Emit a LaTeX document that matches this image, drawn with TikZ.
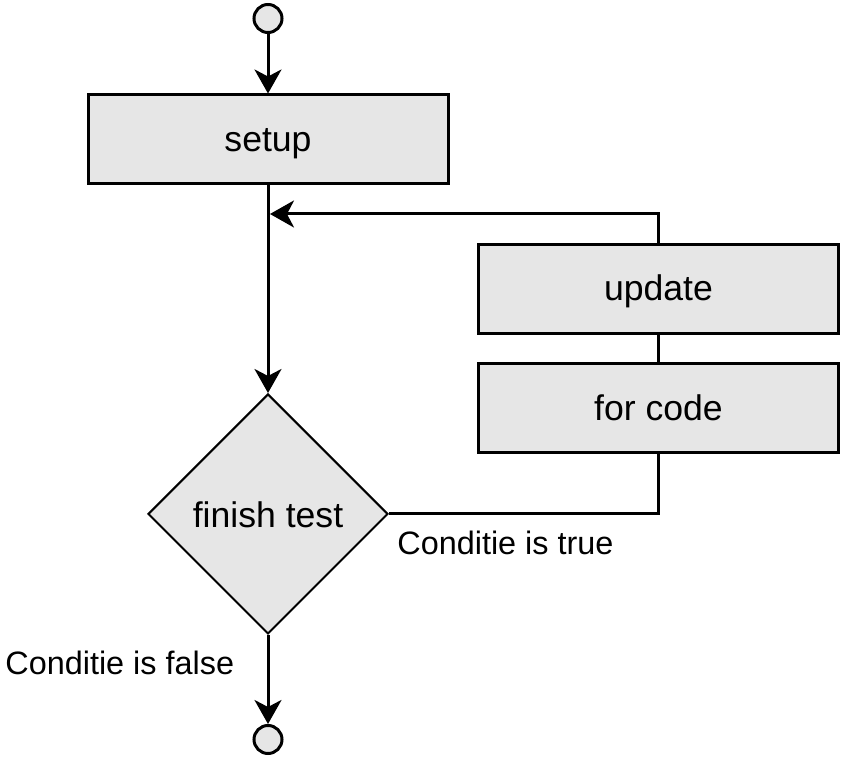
\documentclass[tikz,border=0pt]{standalone}
\usepackage{fontspec}
\setmainfont{Liberation Sans}
\usepackage{xcolor}
\usetikzlibrary{shapes.geometric, arrows.meta}

\definecolor{boxgray}{HTML}{E6E6E6}

\tikzset{
	every node/.style={font=\fontsize{16.2pt}{20pt}\selectfont},
	stepbox/.style={draw, line width=1.5pt, fill=boxgray, minimum width=180pt, minimum height=44.5pt, inner sep=0pt,
		font=\fontsize{17.8pt}{21pt}\selectfont, text height=15.5pt, text depth=3.5pt},
	testbox/.style={draw, diamond, line width=1pt, fill=boxgray, minimum width=120pt, minimum height=120pt, inner sep=0pt,
		font=\fontsize{17.8pt}{21pt}\selectfont, text height=16.5pt, text depth=3pt},
	terminal/.style={draw, circle, line width=1.5pt, fill=boxgray, minimum size=14pt, inner sep=0pt},
	flow/.style={line width=1.5pt, -{Stealth[length=12pt, width=13.5pt, inset=3.5pt]}},
	loopline/.style={line width=1.5pt},
	lbl/.style={inner sep=0pt}
}

\begin{document}
\begin{tikzpicture}[x=0.5pt, y=-0.5pt]
			% Frame of the picture
			\useasboundingbox (0,0) rectangle (843,759);
			
			% Start and end points
			\node[terminal] (start) at (268,18.5) {};
			\node[terminal] (stop) at (268,739.5) {};
			
			% Steps
			\node[stepbox] (setup) at (268,139.5) {setup};
			\node[stepbox] (update) at (658.5,289) {update};
			\node[stepbox] (forcode) at (658.5,408.5) {for code};
			
			% Decision
			\node[testbox] (test) at (268,514) {finish test};
			
			% Point where the loop comes back
			\coordinate (merge) at (270,214);
			
			% Main flow
			\draw[flow] (start) -- (setup);
			\draw[flow] (setup) -- (test);
			\draw[flow] (test) -- (stop);
			
			% Loop back
			\draw[loopline] (test.east) -| (forcode.south);
			\draw[loopline] (forcode) -- (update);
			\draw[flow] (update.north) |- (merge);
			
			% Labels
			\node[lbl, anchor=west] (truelbl) at (397,543) {Conditie is true};
			\node[lbl, anchor=west] (falselbl) at (5,663) {Conditie is false};
			
		\end{tikzpicture}
\end{document}
